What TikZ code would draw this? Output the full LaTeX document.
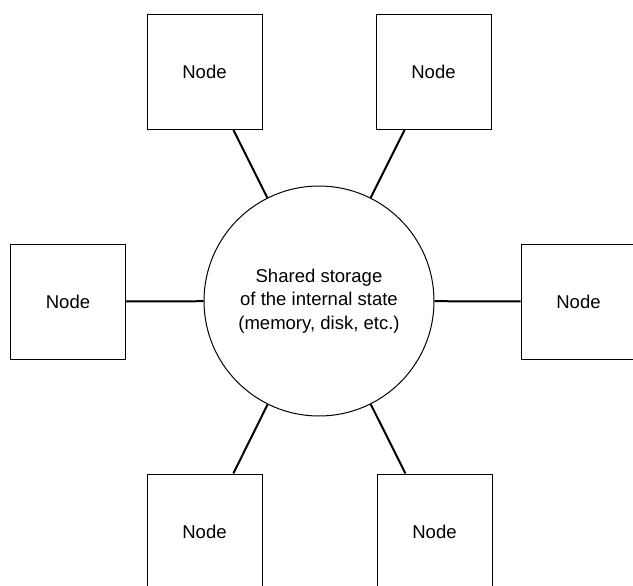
\documentclass[tikz,border=0pt]{standalone}
\usepackage{fontspec}
\setmainfont{Liberation Sans}
\begin{document}
\begin{tikzpicture}[x=0.75pt,y=-0.75pt,
  nodebox/.style={draw=black,line width=0.75pt,minimum width=86.25pt,minimum height=86.25pt,inner sep=0pt,font=\fontsize{13.9pt}{17.5pt}\selectfont},
  store/.style={draw=black,line width=0.75pt,circle,minimum size=172.5pt,inner sep=0pt,align=center,font=\fontsize{13.9pt}{17.5pt}\selectfont},
  link/.style={line width=1.5pt}]
\useasboundingbox[fill=white] (0,0) rectangle (633,586);
\node[store] (c) at (319,301) {Shared storage\\of the internal state\\(memory, disk, etc.)};
\node[nodebox] (tl) at (204.5,72) {Node};
\node[nodebox] (tr) at (433.5,72) {Node};
\node[nodebox] (l) at (68,301.5) {Node};
\node[nodebox] (r) at (578.5,301.5) {Node};
\node[nodebox] (bl) at (204.5,531.5) {Node};
\node[nodebox] (br) at (434.5,531.5) {Node};
\foreach \n in {tl,tr,l,r,bl,br} \draw[link] (c) -- (\n);
\end{tikzpicture}
\end{document}
